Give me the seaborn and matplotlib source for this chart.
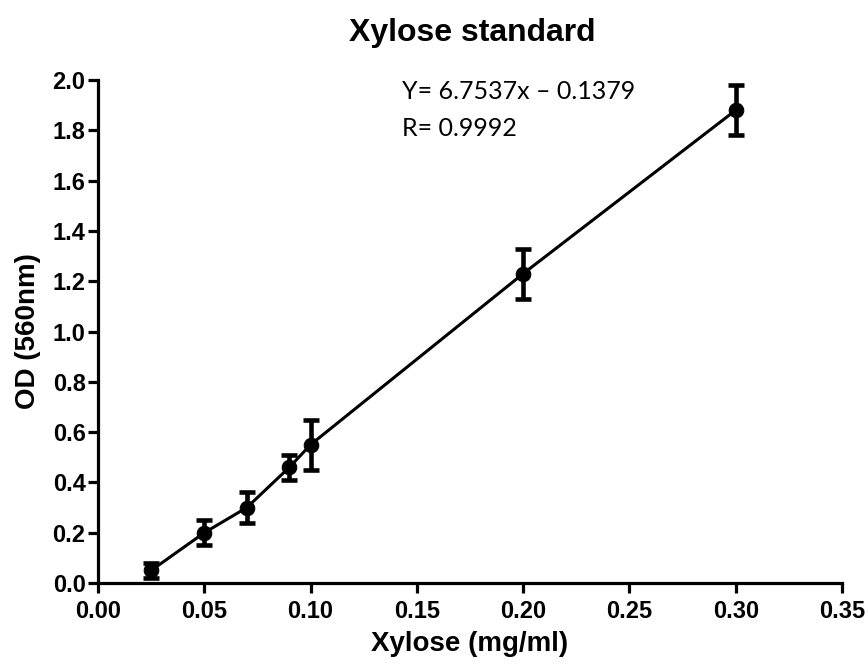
import numpy as np
import pandas as pd
import seaborn as sns
import matplotlib.pyplot as plt

# xylose standard curve
conc = [0.025, 0.05, 0.07, 0.09, 0.10, 0.20, 0.30]
od_mean = [0.05, 0.20, 0.30, 0.46, 0.55, 1.23, 1.88]
od_err = [0.03, 0.05, 0.06, 0.05, 0.10, 0.10, 0.10]

x_ticks = [0.00, 0.05, 0.10, 0.15, 0.20, 0.25, 0.30, 0.35]
y_ticks = [0.0, 0.2, 0.4, 0.6, 0.8, 1.0, 1.2, 1.4, 1.6, 1.8, 2.0]

eq_text = "Y= 6.7537x \u2013 0.1379"
r_text = "R= 0.9992"

df = pd.DataFrame({"conc": conc, "od": od_mean, "err": od_err})

sns.set_style("ticks")
plt.rcParams["font.family"] = ["Liberation Sans", "DejaVu Sans"]
# seaborn greys -> plain black like the original
for key in ["text.color", "axes.labelcolor", "axes.edgecolor",
            "xtick.color", "ytick.color"]:
    plt.rcParams[key] = "black"

fig = plt.figure(figsize=(8.68, 6.64), dpi=100)
ax = fig.add_axes([0.113, 0.122, 0.857, 0.7575])

# connecting line + points
sns.lineplot(data=df, x="conc", y="od", ax=ax, color="black", linewidth=2.2,
             marker="o", markersize=10.5, markeredgecolor="black", zorder=3)
ax.errorbar(df["conc"], df["od"], yerr=df["err"], fmt="none", ecolor="black",
            elinewidth=3.3, capsize=6, capthick=3.3, zorder=4)

ax.set_xlim(0, 0.35)
ax.set_ylim(0, 2.0)
ax.set_xticks(x_ticks)
ax.set_yticks(y_ticks)
ax.set_xticklabels([f"{v:.2f}" for v in x_ticks])
ax.set_yticklabels([f"{v:.1f}" for v in y_ticks])

sns.despine(ax=ax)
for side in ["left", "bottom"]:
    ax.spines[side].set_linewidth(2.3)
ax.tick_params(axis="both", width=2.3, length=7, labelsize=17)
ax.tick_params(axis="x", pad=5)
ax.tick_params(axis="y", pad=2)
for lbl in ax.get_xticklabels() + ax.get_yticklabels():
    lbl.set_fontweight("bold")

ax.set_xlabel("Xylose (mg/ml)", fontsize=20, fontweight="bold", labelpad=6)
ax.set_ylabel("OD (560nm)", fontsize=20, fontweight="bold", labelpad=8)
fig.text(0.544, 0.938, "Xylose standard", ha="center", va="baseline",
         fontsize=23, fontweight="bold")

ax.text(0.1432, 1.924, eq_text, ha="left", va="baseline", fontsize=18,
        family=["Lato", "DejaVu Sans"])
ax.text(0.1432, 1.777, r_text, ha="left", va="baseline", fontsize=18,
        family=["Lato", "DejaVu Sans"])

fig.savefig("out.png", dpi=100)
